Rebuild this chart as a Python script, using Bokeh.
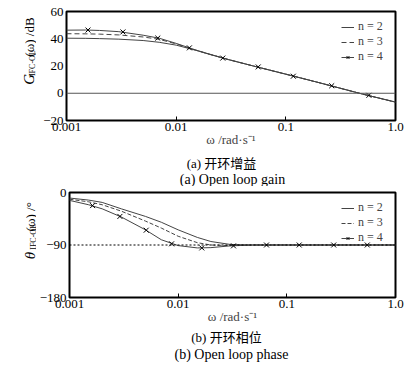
import math
from bokeh.plotting import figure
from bokeh.layouts import column, row
from bokeh.models import FixedTicker, Span
from bokeh.core.properties import value
from bokeh.embed import file_html
from bokeh.resources import INLINE

# ---------------- data ----------------
omega = [0.001, 0.0015, 0.002, 0.003, 0.005, 0.007, 0.01, 0.015, 0.02, 0.03, 0.05, 0.1, 0.2, 0.5, 1.0]

gain_n2 = [40.4, 40.3, 40.1, 39.7, 38.7, 37.4, 35.3, 31.6, 28.6, 24.7, 20.1, 14.0, 7.8, -0.6, -6.5]
gain_n3 = [43.7, 43.6, 43.4, 42.8, 41.3, 39.6, 36.2, 31.7, 28.7, 24.7, 20.1, 14.0, 7.8, -0.6, -6.5]
gain_n4 = [46.3, 46.4, 46.1, 45.2, 42.6, 40.4, 36.6, 31.8, 28.8, 24.7, 20.1, 14.0, 7.8, -0.6, -6.5]
gain_mk_x = [0.00157, 0.00327, 0.0068, 0.0132, 0.0266, 0.056, 0.117, 0.262, 0.572]
gain_mk_y = [46.4, 45.0, 40.5, 33.3, 25.8, 19.3, 12.5, 5.5, -1.5]

phase_n2 = [-9.5, -13, -17, -28, -41, -51, -64, -77, -84, -89, -90, -90, -90, -90, -90]
phase_n3 = [-11.5, -16, -21, -32, -49, -61, -75, -86, -90, -91, -90, -90, -90, -90, -90]
phase_n4 = [-13.5, -21, -28, -42, -64, -81, -91, -95, -94.5, -91.5, -90, -90, -90, -90, -90]
phase_mk_x = [0.00163, 0.00291, 0.00508, 0.0087, 0.0165, 0.0323, 0.065, 0.13, 0.27, 0.55]
phase_mk_y = [-22.5, -41, -64.6, -88, -95, -91.5, -90, -90, -90, -90]

x_ticks = [0.001, 0.01, 0.1, 1.0]
x_tick_labels = ["0.001", "0.01", "0.1", "1.0"]
gain_ticks = [-20, 0, 20, 40, 60]
gain_tick_labels = ["\u221220", "0", "20", "40", "60"]
phase_ticks = [-180, -90, 0]
phase_tick_labels = ["\u2212180", "\u221290", "0"]

labels_n = ["n = 2", "n = 3", "n = 4"]

SERIF = "Liberation Serif"
CJK = "Liberation Serif, Noto Sans CJK SC"
LC = "#444444"

BOTTOM = 32
LW = 36
PW = 371


def blank(width, height):
    f = figure(width=width, height=height, x_range=(0, width), y_range=(0, height),
               output_backend="svg", toolbar_location=None, min_border=0,
               x_axis_location=None, y_axis_location=None)
    f.outline_line_color = None
    f.grid.visible = False
    f.background_fill_color = "white"
    f.border_fill_color = "white"
    return f


def ylabel_fig(height, pieces):
    f = blank(LW, height)
    for txt, x, y, size, style in pieces:
        f.text(x=[x], y=[y], text=[txt], angle=math.pi / 2, text_align="left",
               text_baseline="middle", text_font=value(SERIF),
               text_font_size=value(size), text_font_style=style, text_color="black")
    return f


def caption_fig(height, items):
    f = blank(PW + LW, height)
    for txt, x, y, font, size in items:
        f.text(x=[x], y=[y], text=[txt], text_align="center", text_baseline="middle",
               text_font=value(font), text_font_size=value(size), text_color="black")
    return f


def make_panel(top, frame_h, yr, yticks, ylabels, ys, mk_x, mk_y, dash3):
    height = top + frame_h + BOTTOM
    p = figure(width=PW, height=height, x_axis_type="log",
               x_range=(0.001, 1.0), y_range=yr,
               output_backend="svg", toolbar_location=None,
               min_border_left=30, min_border_right=PW - 30 - 329,
               min_border_top=top, min_border_bottom=BOTTOM)
    p.xgrid.visible = False
    p.ygrid.visible = False
    p.outline_line_color = "black"
    p.outline_line_width = 2
    p.background_fill_color = "white"
    p.border_fill_color = "white"

    for ax in (p.xaxis[0], p.yaxis[0]):
        ax.axis_line_color = None
        ax.minor_tick_line_color = None
        ax.major_label_text_font = SERIF
        ax.major_label_text_font_size = "13px"
        ax.major_label_text_color = "black"
        ax.major_tick_out = 0
    p.xaxis.ticker = FixedTicker(ticks=x_ticks)
    p.xaxis.major_label_overrides = {t: l for t, l in zip(x_ticks, x_tick_labels)}
    p.xaxis.major_tick_in = 4
    p.xaxis.major_label_standoff = 2
    p.xaxis.axis_label = "\u03c9 /rad\u00b7s\u207b\u00b9"
    p.xaxis.axis_label_text_font = SERIF
    p.xaxis.axis_label_text_font_size = "13px"
    p.xaxis.axis_label_text_font_style = "normal"
    p.xaxis.axis_label_standoff = -2
    p.yaxis.ticker = FixedTicker(ticks=yticks)
    p.yaxis.major_label_overrides = {t: l for t, l in zip(yticks, ylabels)}
    p.yaxis.major_tick_in = 0
    p.yaxis.major_tick_line_color = None
    p.yaxis.major_label_standoff = 3

    p.line(omega, ys[0], line_color=LC, line_width=1, legend_label=labels_n[0])
    p.line(omega, ys[1], line_color=LC, line_width=1, line_dash=dash3, legend_label=labels_n[1])
    p.line(omega, ys[2], line_color=LC, line_width=1, legend_label=labels_n[2])
    p.scatter(mk_x, mk_y, marker="x", size=7, line_color="black", line_width=1,
              legend_label=labels_n[2])

    lg = p.legend[0]
    lg.location = "top_right"
    lg.margin = 6
    lg.padding = 2
    lg.spacing = -3
    lg.glyph_width = 13
    lg.glyph_height = 10
    lg.label_height = 10
    lg.label_width = 29
    lg.label_standoff = 4
    lg.label_text_font = SERIF
    lg.label_text_font_size = "12px"
    lg.background_fill_alpha = 0
    lg.border_line_alpha = 0
    return p


# ---- panel (a) gain ----
T1, F1 = 11, 109
p1 = make_panel(T1, F1, (-20, 60), gain_ticks, gain_tick_labels,
                [gain_n2, gain_n3, gain_n4], gain_mk_x, gain_mk_y, "5 3")
p1.add_layout(Span(location=0, dimension="width", line_color="#555555", line_width=1))
h1 = T1 + F1 + BOTTOM
l1 = ylabel_fig(h1, [("G", 28, BOTTOM + 18, "15px", "italic"),
                     ("IFC-OL", 32, BOTTOM + 30, "8px", "normal"),
                     ("(\u03c9) /dB", 28.5, BOTTOM + 57, "13px", "normal")])
c1 = caption_fig(34, [("(a) \u5f00\u73af\u589e\u76ca", 221, 23, CJK, "13px"),
                      ("(a) Open loop gain", 232, 7, SERIF, "14px")])

# ---- panel (b) phase ----
T2, F2 = 6, 105
p2 = make_panel(T2, F2, (-180, 0), phase_ticks, phase_tick_labels,
                [phase_n2, phase_n3, phase_n4], phase_mk_x, phase_mk_y, "4 2")
p2.add_layout(Span(location=-90, dimension="width", line_color="black", line_width=1, line_dash="2 2"))
h2 = T2 + F2 + BOTTOM
l2 = ylabel_fig(h2, [("\u03b8", 29, BOTTOM + 20, "15px", "italic"),
                     ("IFC-OL", 32.5, BOTTOM + 33, "8px", "normal"),
                     ("(\u03c9) /\u00b0", 29.5, BOTTOM + 58, "13px", "normal")])
c2 = caption_fig(33, [("(b) \u5f00\u73af\u76f8\u4f4d", 226, 25, CJK, "13px"),
                      ("(b) Open loop phase", 231, 8, SERIF, "14px")])

layout = column(row(l1, p1, spacing=0), c1, row(l2, p2, spacing=0), c2, spacing=0)
open("out.html", "w").write(file_html(layout, INLINE))
